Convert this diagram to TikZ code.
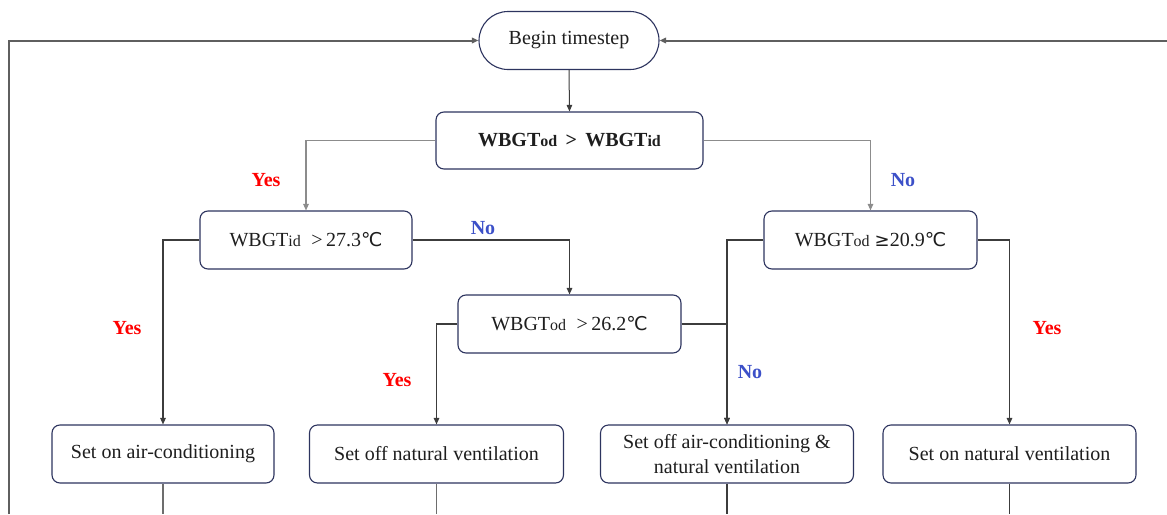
\documentclass[tikz,border=0pt]{standalone}
\usepackage{fontspec}
\setmainfont{Liberation Serif}
\newfontfamily\dvfont{DejaVu Sans}
\usetikzlibrary{arrows.meta}
\definecolor{boxc}{RGB}{45,52,95}
\definecolor{lnc}{RGB}{60,60,60}
\definecolor{lnl}{RGB}{140,140,140}
\definecolor{loopc}{RGB}{95,95,95}
\definecolor{txt}{RGB}{30,30,30}
\definecolor{yesc}{RGB}{255,0,0}
\definecolor{noc}{RGB}{60,80,200}
\newcommand{\lowtxt}[1]{{\fontsize{16}{16}\selectfont #1}}
\newcommand{\degC}{{\dvfont\fontsize{19}{19}\selectfont ℃}}
\newcommand{\gesym}{{\dvfont\fontsize{18}{18}\selectfont ≥}}
\newcommand{\fs}{\fontsize{20}{25}\selectfont}
\begin{document}
\begin{tikzpicture}[x=1pt,y=-1pt,
  box/.style={draw=boxc, line width=1.1pt, rounded corners=8pt, fill=white, font=\fs, text=txt, inner sep=0pt, align=center},
  term/.style={box, rounded corners=29pt},
  ln/.style={draw=lnc, line width=1.3pt},
  lnlight/.style={draw=lnl, line width=1.1pt},
  lnmid/.style={draw=lnc!75, line width=1.3pt},
  tip/.style={-{Triangle[length=6.5pt,width=5.5pt]}},
  loopln/.style={draw=loopc, line width=2pt},
  yes/.style={text=yesc, font=\fs\bfseries, inner sep=0pt},
  no/.style={text=noc, font=\fs\bfseries, inner sep=0pt}]
\useasboundingbox (0,0) rectangle (1167,514);
% nodes
\node[term, minimum width=180pt, minimum height=58pt] (begin) at (569,40.5) {Begin timestep};
\node[box, minimum width=267pt, minimum height=57pt] (c1) at (569.5,140.5) {\bfseries WBGT\lowtxt{od} \,>\, WBGT\lowtxt{id}};
\node[box, minimum width=212pt, minimum height=58pt] (c2) at (306,240) {WBGT\lowtxt{id} \;>\,27.3\degC};
\node[box, minimum width=223pt, minimum height=58pt] (c4) at (569.5,324) {WBGT\lowtxt{od} \;>\,26.2\degC};
\node[box, minimum width=213pt, minimum height=58pt] (c3) at (870.5,240) {WBGT\lowtxt{od} \gesym20.9\degC};
\node[box, minimum width=222pt, minimum height=58pt] (bA) at (163,454) {\raisebox{-2pt}{Set on air-conditioning}};
\node[box, minimum width=254pt, minimum height=58pt] (bB) at (436.5,454) {\raisebox{-2pt}{Set off natural ventilation}};
\node[box, minimum width=253pt, minimum height=58pt] (bC) at (727,454) {Set off air-conditioning \&\\natural ventilation};
\node[box, minimum width=253pt, minimum height=58pt] (bD) at (1009.5,454) {\raisebox{-2pt}{Set on natural ventilation}};
% labels
\node[yes] (y1) at (266,180) {Yes};
\node[no] (n1) at (903,180) {No};
\node[yes] (y2) at (127,328) {Yes};
\node[no] (n2) at (483,228) {No};
\node[yes] (y3) at (397,380) {Yes};
\node[no] (n3) at (750,372) {No};
\node[yes] (y4) at (1047,328) {Yes};
% coordinates
\coordinate (tl) at (9,40.5);
\coordinate (bl) at (9,514);
\coordinate (tr) at (1167,40.5);
\coordinate (eA) at (163,514);
\coordinate (eB) at (436.5,514);
\coordinate (eC) at (727,514);
\coordinate (eD) at (1009.5,514);
% connectors
\draw[loopln, tip] (bl) -- (tl) -- (begin.west);
\draw[loopln, tip] (tr) -- (begin.east);
\draw[ln, line width=1pt, tip] (begin.south) -- (c1.north);
\draw[lnlight, tip] (c1.west) -| (c2.north);
\draw[lnlight, tip] (c1.east) -| (c3.north);
\draw[ln, tip] (c2.west) -| (bA.north);
\draw[ln, tip] (c2.east) -| (c4.north);
\draw[ln, tip] (c4.west) -| (bB.north);
\draw[ln, tip] (c4.east) -| (bC.north);
\draw[ln, tip] (c3.west) -| (bC.north);
\draw[ln, tip] (c3.east) -| (bD.north);
\draw[lnmid] (bA.south) -- (eA);
\draw[lnmid] (bB.south) -- (eB);
\draw[ln] (bC.south) -- (eC);
\draw[ln] (bD.south) -- (eD);
\end{tikzpicture}
\end{document}
